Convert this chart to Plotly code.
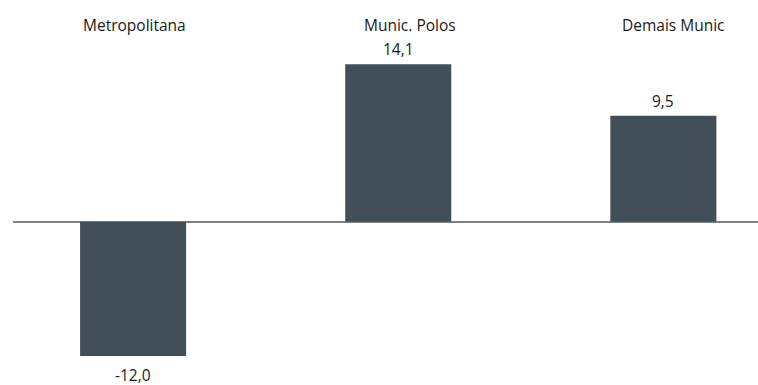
import plotly.graph_objects as go

# Regional variation (%)
categories = ["Metropolitana", "Munic. Polos", "Demais Munic"]
values = [-12.0, 14.1, 9.5]
value_labels = [f"{v:.1f}".replace(".", ",") for v in values]

bar_color = "#414f58"
text_color = "#1a1a1a"
font_family = "Open Sans, Lato, sans-serif"
font_size = 15.5

fig = go.Figure(
    go.Bar(
        x=categories,
        y=values,
        width=0.4,
        marker=dict(color=bar_color, line=dict(width=0)),
        cliponaxis=False,
    )
)

# Value labels just past the end of each bar
for cat, v, lab in zip(categories, values, value_labels):
    fig.add_annotation(
        x=cat, y=v, xref="x", yref="y", text=lab, showarrow=False,
        yanchor="middle", borderpad=0,
        yshift=15 if v >= 0 else -19,
        font=dict(family=font_family, size=font_size, color=text_color),
    )

# Category names shown as a header row above the bars
label_shift = [1, 12, 10]
for cat, dx in zip(categories, label_shift):
    fig.add_annotation(
        x=cat, y=1, xref="x", yref="paper", yshift=-25, yanchor="middle",
        xshift=dx, text=cat, showarrow=False,
        font=dict(family=font_family, size=font_size, color=text_color),
    )

fig.update_layout(
    width=758, height=385,
    margin=dict(l=13, r=0, t=0, b=0),
    paper_bgcolor="white", plot_bgcolor="white",
    showlegend=False,
    bargap=0.6,
    xaxis=dict(range=[-0.453, 2.357], showticklabels=False, showgrid=False,
               zeroline=False, showline=False, ticks=""),
    yaxis=dict(range=[-14.6, 19.85], showticklabels=False, showgrid=False,
               zeroline=True, zerolinecolor="#808080", zerolinewidth=2,
               showline=False, ticks=""),
)

fig.write_html("out.html")
